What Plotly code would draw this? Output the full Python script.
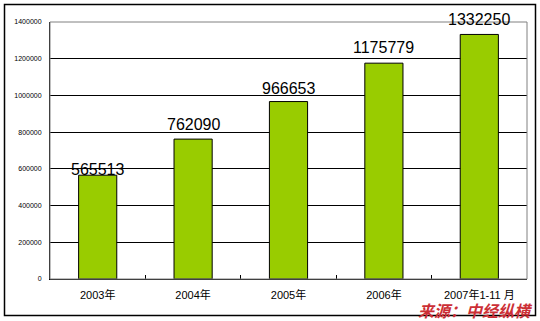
import plotly.graph_objects as go

categories = ["2003年", "2004年", "2005年", "2006年", "2007年1-11 月"]
values = [565513, 762090, 966653, 1175779, 1332250]
label_shift = [-5, 4, 3, 5, 4]
y_ticks = [0, 200000, 400000, 600000, 800000, 1000000, 1200000, 1400000]
source_text = "来源：中经纵横"

W, H = 540, 321
L, R, T, B = 50, 13, 22, 42
pw, ph = W - L - R, H - T - B

def px_x(p):
    return (p - L) / pw

def px_y(p):
    return (H - B - p) / ph

fig = go.Figure()
fig.add_trace(go.Bar(
    x=categories, y=values, width=0.4,
    marker=dict(color="#99CC00", line=dict(color="#000000", width=1)),
    hoverinfo="skip",
))

for c, v, s in zip(categories, values, label_shift):
    fig.add_annotation(x=c, y=v, text=str(v), showarrow=False, yanchor="bottom",
                       yshift=s, font=dict(family="Liberation Sans, Arial", size=16, color="#000000"))

# plot area gray border (top & right)
fig.add_shape(type="rect", xref="paper", yref="paper", x0=0, x1=1, y0=0, y1=1,
              line=dict(color="#808080", width=1), layer="above")
# outer frame
fig.add_shape(type="rect", xref="paper", yref="paper",
              x0=px_x(4.5), x1=px_x(535.5), y0=px_y(315.5), y1=px_y(4.5),
              line=dict(color="#000000", width=1.5), layer="above")

fig.add_annotation(xref="paper", yref="paper", x=px_x(534), y=px_y(310),
                   xanchor="right", yanchor="middle", showarrow=False, borderpad=0,
                   text="<b><i>" + source_text + "</i></b>",
                   font=dict(family="Noto Sans CJK SC", size=16, color="#cc2f36"))

fig.update_layout(
    width=W, height=H,
    margin=dict(l=L, r=R, t=T, b=B, pad=0),
    paper_bgcolor="white", plot_bgcolor="white",
    showlegend=False,
    bargap=0.6,
    xaxis=dict(
        showline=True, linecolor="#000000", linewidth=1,
        ticks="inside", tickson="boundaries", ticklen=4, tickcolor="#000000",
        showgrid=False, ticklabelstandoff=6,
        tickfont=dict(family="Liberation Sans, Noto Sans CJK SC", size=11, color="#000000"),
    ),
    yaxis=dict(
        range=[0, 1400000], tickvals=y_ticks, ticktext=[str(t) for t in y_ticks],
        showline=True, linecolor="#000000", linewidth=1,
        showgrid=True, gridcolor="#000000", gridwidth=1,
        zeroline=False, ticks="", ticklabelstandoff=6,
        tickfont=dict(family="Liberation Sans, Arial", size=7, color="#000000"),
    ),
)

fig.write_html("out.html")
